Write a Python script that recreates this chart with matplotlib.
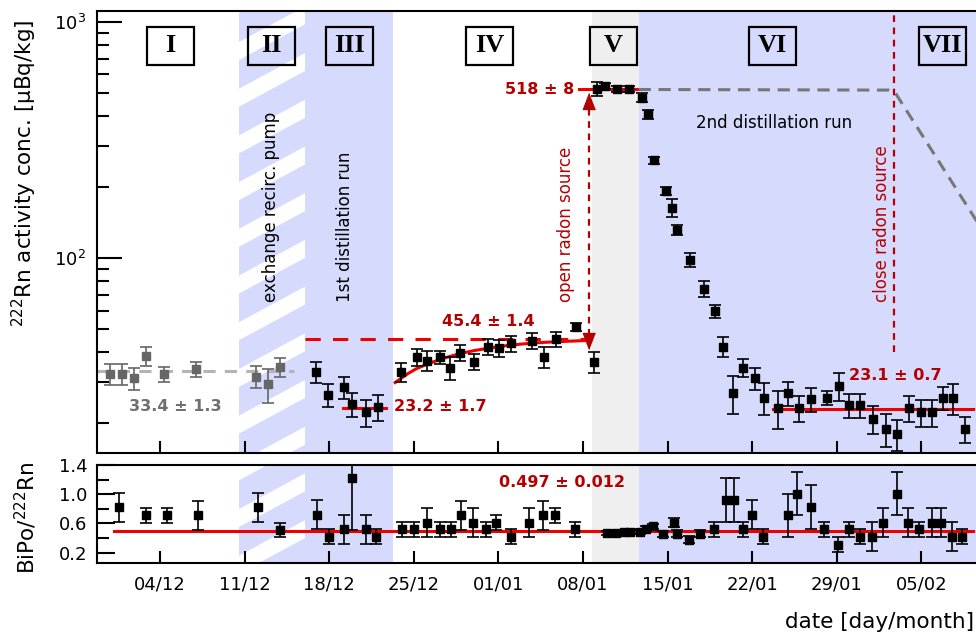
import matplotlib
matplotlib.use('Agg')
import matplotlib.pyplot as plt
import matplotlib.transforms as mtransforms
from matplotlib.patches import Rectangle, Polygon
from matplotlib.ticker import LogLocator, NullFormatter, FixedLocator

plt.rcParams['font.family'] = 'DejaVu Sans'
plt.rcParams['mathtext.fontset'] = 'dejavusans'

# x in days since 01/12
tick_days = [3, 10, 17, 24, 31, 38, 45, 52, 59, 66]
tick_labels = ['04/12', '11/12', '18/12', '25/12', '01/01', '08/01',
               '15/01', '22/01', '29/01', '05/02']

# phases (start/end days) and labels
phase_names = ['I', 'II', 'III', 'IV', 'V', 'VI', 'VII']
phase_centers = [3.87, 12.19, 18.68, 30.27, 40.5, 53.66, 67.73]
pump_span = (9.54, 15.0)
dist1_span = (15.0, 22.3)
source_span = (38.7, 42.6)
dist2_span = (42.6, 75.0)
open_day = 38.53
close_day = 63.76

# Rn activity, runs before distillation (grey)
gray_day = [-1.12, -0.15, 0.87, 1.81, 3.30, 6.0, 10.94, 11.9, 12.93]
gray_val = [32.4, 32.4, 31.0, 38.6, 32.4, 33.9, 31.6, 29.3, 34.7]
gray_err = [3.2, 3.2, 3.2, 3.5, 2.3, 2.4, 3.3, 4.8, 3.3]

# Rn activity, later runs (black)
rn_day = [15.9, 16.9, 18.2, 18.9, 20.0, 21.0,
          22.95, 24.25, 25.1, 26.2, 27.0, 27.8, 29.0, 30.1, 31.06, 32.0,
          33.8, 34.8, 35.75, 37.4, 38.9,
          39.15, 39.8, 40.8, 41.8,
          42.9, 43.4, 43.9, 44.9, 45.4, 45.8, 46.85, 47.97, 48.9, 49.6,
          50.4, 51.2, 52.2, 53.0, 54.1, 54.96, 55.9, 56.9, 58.2, 59.2,
          60.0, 60.9, 61.96, 63.07, 64.0, 65.0, 66.0, 66.9, 67.8, 68.6, 69.6]
rn_val = [33.0, 26.5, 28.5, 24.1, 22.3, 23.5,
          33.0, 38.2, 36.9, 38.1, 34.4, 39.8, 36.4, 42.3, 41.6, 43.6,
          44.8, 38.3, 45.4, 51.3, 36.4,
          520, 535, 520, 520,
          479, 407, 260, 193, 164, 132, 98.4, 74.3, 59.8, 42.3,
          26.9, 34.5, 31.0, 25.7, 23.2, 26.9, 23.2, 25.3, 25.7, 28.8,
          23.9, 23.9, 20.9, 18.9, 18.0, 23.2, 22.3, 22.3, 25.6, 25.6, 18.9]
rn_err = [3.3, 3.0, 3.1, 2.7, 2.9, 3.0,
          2.9, 3.2, 3.5, 2.5, 3.8, 3.2, 2.8, 3.4, 3.5, 3.4,
          3.4, 3.9, 3.3, 2.0, 3.8,
          35, 15, 15, 15,
          20, 18, 9, 8, 14, 7, 6.4, 5.6, 3.9, 4.0,
          5.0, 2.9, 3.3, 4.0, 4.2, 3.1, 3.0, 2.9, 1.8, 3.9,
          2.8, 2.8, 2.9, 3.0, 2.7, 3.0, 2.9, 2.9, 2.8, 3.8, 2.3]

# emanation fit in phase IV
fit_day = [22.45, 23.5, 24.25, 25.5, 26.5, 27.8, 29.0, 30.1, 31.5, 33.0, 34.5, 36.0, 38.3]
fit_val = [29.8, 32.5, 34.2, 36.3, 37.8, 39.5, 40.7, 41.6, 42.6, 43.4, 44.0, 44.4, 44.9]

# expected Rn without distillation
expect_day = [42.6, 63.3, 63.8, 70.6]
expect_val = [518, 515, 505, 143]

# fitted levels: (value, start day, end day)
lvl_before = (33.4, -2.3, 14.1)
lvl_dist1 = (23.2, 18.1, 21.7)
lvl_eq = (45.4, 15.0, 38.7)
lvl_source = (518, 37.7, 42.5)
lvl_dist2 = (23.1, 53.7, 70.3)
lvl_ratio = (0.497, -0.8, 70.3)

# BiPo / 222Rn ratio
bipo_day = [-0.37, 1.84, 3.55, 6.17, 11.14, 12.93, 16.0, 17.0, 18.2, 18.9,
            20.05, 20.9, 23.06, 24.05, 25.1, 26.2, 27.1, 27.9, 28.9, 29.96,
            30.8, 32.0, 33.5, 34.7, 35.7, 37.35, 40.0, 40.7, 41.35, 41.9,
            42.7, 43.2, 43.8, 44.6, 45.5, 45.8, 46.8, 47.7, 48.8, 49.85,
            50.5, 51.2, 52.0, 52.9, 55.0, 55.7, 56.9, 57.9, 59.1, 60.0,
            60.9, 61.9, 62.8, 64.0, 64.9, 65.8, 66.9, 67.65, 68.5, 69.4]
bipo_val = [0.82, 0.71, 0.71, 0.71, 0.82, 0.51, 0.72, 0.42, 0.52, 1.22,
            0.52, 0.42, 0.52, 0.52, 0.61, 0.52, 0.52, 0.71, 0.61, 0.52,
            0.61, 0.42, 0.61, 0.71, 0.71, 0.52, 0.47, 0.47, 0.48, 0.48,
            0.49, 0.53, 0.56, 0.46, 0.61, 0.46, 0.38, 0.46, 0.52, 0.92,
            0.92, 0.52, 0.72, 0.42, 0.71, 1.01, 0.82, 0.52, 0.31, 0.52,
            0.42, 0.42, 0.61, 1.01, 0.61, 0.52, 0.61, 0.61, 0.42, 0.42]
bipo_err = [0.2, 0.1, 0.1, 0.2, 0.2, 0.1, 0.2, 0.1, 0.2, 0.71,
            0.2, 0.1, 0.1, 0.1, 0.2, 0.1, 0.1, 0.2, 0.2, 0.1,
            0.1, 0.1, 0.2, 0.2, 0.1, 0.1, 0.03, 0.03, 0.03, 0.03,
            0.03, 0.03, 0.03, 0.04, 0.06, 0.05, 0.05, 0.05, 0.1, 0.3,
            0.3, 0.1, 0.2, 0.1, 0.3, 0.3, 0.3, 0.1, 0.1, 0.1,
            0.1, 0.2, 0.2, 0.3, 0.2, 0.1, 0.2, 0.2, 0.2, 0.1]

BLUE = '#d6dafc'
GREY_BG = '#efefef'
RED = '#ee0000'
DARKRED = '#b40000'

W, H = 976, 636
fig = plt.figure(figsize=(W / 100, H / 100), dpi=100)
ax = fig.add_axes([97 / W, 1 - 453 / H, 880 / W, 442 / H])
ax2 = fig.add_axes([97 / W, 1 - 563.3 / H, 880 / W, 98.3 / H])

XMIN, XMAX = -2.22, 70.6
ax.set_yscale('log')
ax.set_xlim(XMIN, XMAX)
ax.set_ylim(15.0, 1113)
ax2.set_xlim(XMIN, XMAX)
ax2.set_ylim(0.055, 1.4)

pix = mtransforms.Affine2D().scale(1 / 100) + fig.dpi_scale_trans


def backgrounds(a):
    span = a.axvspan(*pump_span, color=BLUE, lw=0, zorder=0)
    a.axvspan(*dist1_span, color=BLUE, lw=0, zorder=0)
    a.axvspan(*source_span, color=GREY_BG, lw=0, zorder=0)
    a.axvspan(*dist2_span, color=BLUE, lw=0, zorder=0)
    # white diagonal stripes in the pump-exchange phase
    for k in range(-20, 20):
        y0 = 576 + k * 46.7
        xs = [200, 360, 360, 200]
        ys = [y0 - 0.54 * 39, y0 + 0.54 * 121, y0 + 0.54 * 121 + 18, y0 - 0.54 * 39 + 18]
        poly = Polygon(list(zip(xs, ys)), closed=True, facecolor='white',
                       lw=0, transform=pix, zorder=0.5)
        a.add_artist(poly)
        poly.set_clip_path(span)


backgrounds(ax)
backgrounds(ax2)

# ---- top panel ----
ax.plot([lvl_before[1], lvl_before[2]], [lvl_before[0]] * 2, color='#b4b4b4',
        lw=2.2, dashes=(4, 3), zorder=2)
ax.errorbar(gray_day, gray_val, yerr=gray_err, fmt='s', color='#666666', ms=6,
            capsize=4, elinewidth=1.2, capthick=1.2, zorder=3)

ax.plot([lvl_eq[1], lvl_eq[2]], [lvl_eq[0]] * 2, color=RED, lw=2.2, dashes=(5, 4), zorder=2)
ax.plot([lvl_dist1[1], lvl_dist1[2]], [lvl_dist1[0]] * 2, color=RED, lw=2.2, zorder=2)
ax.plot(fit_day, fit_val, color=RED, lw=2.2, zorder=2)
ax.plot([lvl_source[1], lvl_source[2]], [lvl_source[0]] * 2, color=RED, lw=2.2, zorder=2)
ax.plot([lvl_dist2[1], lvl_dist2[2]], [lvl_dist2[0]] * 2, color=RED, lw=2.2, zorder=2)
ax.plot(expect_day, expect_val, color='#777777', lw=2.2, dashes=(4, 2.5), zorder=2)

ax.errorbar(rn_day, rn_val, yerr=rn_err, fmt='s', color='black', ms=6,
            capsize=4, elinewidth=1.2, capthick=1.2, zorder=4)

# radon source open / close markers
ax.plot([open_day, open_day], [428, 48.3], color=DARKRED, lw=1.6,
        dashes=(3, 2.5), zorder=3)
head_up = [(0, 0.5), (-0.38, -0.5), (0.38, -0.5)]
head_dn = [(0, -0.5), (-0.38, 0.5), (0.38, 0.5)]
ax.plot([open_day], [464], marker=head_up, ms=11.5, color=DARKRED, lw=0, zorder=5)
ax.plot([open_day], [44.5], marker=head_dn, ms=11.5, color=DARKRED, lw=0, zorder=5)
ax.plot([close_day, close_day], [40.1, 1113], color=DARKRED, lw=1.6,
        dashes=(3, 2.5), zorder=3)

# phase boxes
box_tr = mtransforms.blended_transform_factory(ax.transData, ax.transAxes)
for name, c in zip(phase_names, phase_centers):
    ax.add_patch(Rectangle((c - 1.945, 0.878), 3.89, 0.086, transform=box_tr,
                           fill=False, ec='black', lw=1.6, zorder=6))
    ax.text(c, 0.921, name, transform=box_tr, ha='center', va='center',
            family='Liberation Serif', fontweight='bold', fontsize=19, zorder=6)

# annotations
ax.text(4.28, 23.5, '33.4 ± 1.3', color='#707070', fontweight='bold',
        fontsize=11.5, ha='center', va='center')
ax.text(22.35, 23.5, '23.2 ± 1.7', color=DARKRED, fontweight='bold',
        fontsize=11.5, ha='left', va='center')
ax.text(30.2, 53.9, '45.4 ± 1.4', color=DARKRED, fontweight='bold',
        fontsize=11.5, ha='center', va='center')
ax.text(37.25, 518, '518 ± 8', color=DARKRED, fontweight='bold',
        fontsize=11.5, ha='right', va='center')
ax.text(63.8, 31.8, '23.1 ± 0.7', color=DARKRED, fontweight='bold',
        fontsize=11.5, ha='center', va='center')
ax.text(53.8, 375, '2nd distillation run', fontsize=12, ha='center', va='center')
ax.text(12.19, 65.3, 'exchange recirc. pump', fontsize=12, rotation=90,
        ha='center', va='bottom')
ax.text(18.3, 65.3, '1st distillation run', fontsize=12, rotation=90,
        ha='center', va='bottom')
ax.text(36.6, 65.3, 'open radon source', fontsize=12, rotation=90,
        ha='center', va='bottom', color=DARKRED)
ax.text(62.74, 65.3, 'close radon source', fontsize=12, rotation=90,
        ha='center', va='bottom', color=DARKRED)

ax.yaxis.set_major_locator(LogLocator(base=10))
ax.yaxis.set_minor_locator(LogLocator(base=10, subs=range(2, 10)))
ax.yaxis.set_minor_formatter(NullFormatter())
ax.set_xticks(tick_days)
ax.tick_params(axis='y', which='major', direction='in', length=18, width=1.5,
               labelsize=13, pad=8)
ax.tick_params(axis='y', which='minor', direction='in', length=8.5, width=1.5)
ax.tick_params(axis='x', which='major', direction='in', length=9, width=1.5,
               labelbottom=False)
ax.tick_params(axis='x', which='minor', bottom=False)

# ---- bottom panel ----
ax2.plot([lvl_ratio[1], lvl_ratio[2]], [lvl_ratio[0]] * 2, color=RED, lw=2.2, zorder=2)
ax2.errorbar(bipo_day, bipo_val, yerr=bipo_err, fmt='s', color='black', ms=6,
             capsize=4, elinewidth=1.2, capthick=1.2, zorder=4, clip_on=True)
ax2.text(36.3, 1.16, '0.497 ± 0.012', color=DARKRED, fontweight='bold',
         fontsize=11.5, ha='center', va='center')

ax2.yaxis.set_major_locator(FixedLocator([0.2, 0.6, 1.0, 1.4]))
ax2.yaxis.set_minor_locator(FixedLocator([0.4, 0.8, 1.2]))
ax2.set_yticklabels(['0.2', '0.6', '1.0', '1.4'])
ax2.set_xticks(tick_days)
ax2.set_xticklabels(tick_labels)
ax2.tick_params(axis='y', which='major', direction='in', length=12.7, width=1.5,
                labelsize=13, pad=7)
ax2.tick_params(axis='y', which='minor', direction='in', length=8.5, width=1.5)
ax2.tick_params(axis='x', which='major', direction='in', length=9, width=1.5,
                labelsize=13, pad=9)

for a in (ax, ax2):
    for s in a.spines.values():
        s.set_linewidth(1.5)
    a.spines['right'].set_visible(False)
    a.set_xlim(XMIN, XMAX)

fig.text(24 / W, 1 - 173.5 / H, r'$^{222}$Rn activity conc. [μBq/kg]', rotation=90,
         ha='center', va='center', fontsize=15.5)
fig.text(26 / W, 1 - 518 / H, r'BiPo/$^{222}$Rn', rotation=90,
         ha='center', va='center', fontsize=15.5)
fig.text(974 / W, 1 - 622 / H, 'date [day/month]', ha='right', va='center',
         fontsize=15.5)

fig.savefig('out.png', dpi=100)
